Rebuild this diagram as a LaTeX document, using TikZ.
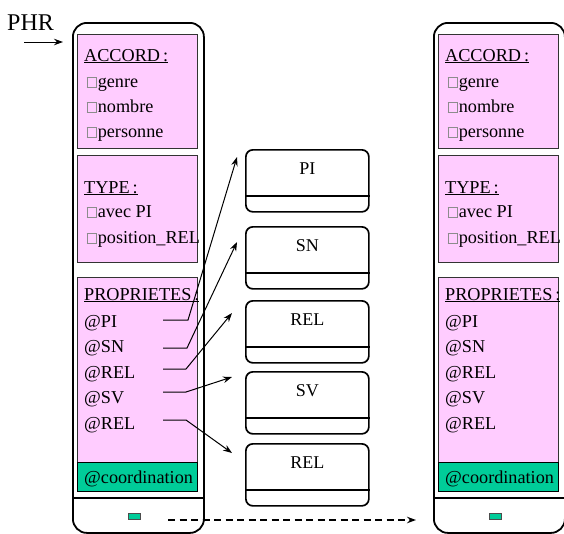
\documentclass[tikz,border=0pt]{standalone}
\usepackage{fontspec}
\setmainfont{Liberation Serif}
\usetikzlibrary{arrows.meta,calc}
\definecolor{pinkc}{HTML}{FFCCFF}
\definecolor{greenc}{HTML}{00CC99}
\newcommand\cbx{\hspace{2.5pt}{\color{black!45}\setlength{\fboxsep}{0pt}\setlength{\fboxrule}{0.7pt}\fbox{\rule{0pt}{9.5pt}\rule{8.5pt}{0pt}}}\hspace{1.2pt}}
\tikzset{
  outerbox/.style={draw, line width=1.8pt, rounded corners=14pt, minimum width=131pt, minimum height=510pt, inner sep=0pt, anchor=north west},
  pinkbox/.style={draw=black!80, fill=pinkc, line width=1.1pt, minimum width=120pt, inner sep=0pt, anchor=north west},
  greenbox/.style={draw=black, fill=greenc, line width=1.1pt, minimum width=120pt, minimum height=29pt, inner sep=0pt, anchor=north west},
  ptrbox/.style={draw=black!70, fill=greenc, line width=0.7pt, minimum width=12pt, minimum height=6pt, inner sep=0pt, anchor=north west},
  databox/.style={draw, line width=1.7pt, rounded corners=7pt, minimum width=123pt, minimum height=62pt, inner sep=0pt, anchor=north west},
  txt/.style={anchor=base west, inner sep=0pt, font=\fontsize{18.2}{20}\selectfont},
  lbl/.style={anchor=base, inner sep=0pt, font=\fontsize{18}{20}\selectfont},
  arr/.style={-{Stealth[length=9pt,width=6.5pt]}, line width=1pt},
  darr/.style={-{Stealth[length=9pt,width=6.5pt]}, line width=1.4pt, dash pattern=on 7pt off 4.5pt},
}
\newcommand\PhrBox[2]{%
  \node[outerbox] (#1) at ({#2+72},22) {};
  \node[pinkbox, minimum height=114pt] (#1acc) at ({#2+77},34) {};
  \node[pinkbox, minimum height=107pt] (#1typ) at ({#2+77},155) {};
  \node[pinkbox, minimum height=185pt] (#1pro) at ({#2+77},277) {};
  \node[greenbox] (#1coo) at ({#2+77},462) {};
  \draw[line width=1.8pt] ({#2+72},498) -- ({#2+203},498);
  \node[ptrbox] (#1ptr) at ({#2+128},513) {};
  \node[txt] (#1t1) at ({#2+84},61) {\underline{ACCORD\,:}};
  \node[txt] (#1t2) at ({#2+84},87) {\cbx genre};
  \node[txt] (#1t3) at ({#2+84},112) {\cbx nombre};
  \node[txt] (#1t4) at ({#2+84},137) {\cbx personne};
  \node[txt] (#1t5) at ({#2+84},193) {\underline{TYPE\,:}};
  \node[txt] (#1t6) at ({#2+84},217) {\cbx avec PI};
  \node[txt] (#1t7) at ({#2+84},243) {\cbx position\_REL};
  \node[txt] (#1t8) at ({#2+84},300) {\underline{PROPRIETES\,:}};
  \node[txt] (#1t9) at ({#2+84},327) {@PI};
  \node[txt] (#1t10) at ({#2+84},352) {@SN};
  \node[txt] (#1t11) at ({#2+84},378) {@REL};
  \node[txt] (#1t12) at ({#2+84},403) {@SV};
  \node[txt] (#1t13) at ({#2+84},429) {@REL};
  \node[txt] (#1t14) at ({#2+84},483) {@coordination};
}
\newcommand\DataBox[3]{%
  \node[databox] (#1) at (245,#2) {};
  \draw[line width=1.7pt] ($(#1.north west)+(0,47)$) -- ($(#1.north east)+(0,47)$);
  \node[lbl] (#1lbl) at ($(#1.north)+(0,25)$) {#3};
}
\begin{document}
\begin{tikzpicture}[x=1pt,y=-1pt]
\useasboundingbox (0,0) rectangle (564,533);
\PhrBox{L}{0}
\PhrBox{R}{361}
\DataBox{pi}{149}{PI}
\DataBox{sn}{226}{SN}
\DataBox{rel}{300}{REL}
\DataBox{sv}{371}{SV}
\DataBox{relb}{443}{REL}
% PHR
\node[anchor=base west, inner sep=0pt, font=\fontsize{24}{26}\selectfont] (phr) at (7,30) {PHR};
\coordinate (phrS) at (24,42);
\draw[arr] (phrS) -- ([xshift=-9pt]phrS -| L.west);
% pointers
\coordinate (s1) at (163,320);
\coordinate (s2) at (163,348);
\coordinate (s3) at (163,369);
\coordinate (s4) at (163,392);
\coordinate (s5) at (163,420);
\draw[arr] (s1) -- ++(25,0) -- ($(pi.north west)+(-8,8)$);
\draw[arr] (s2) -- ++(24,0) -- ($(sn.north west)+(-8,16)$);
\draw[arr] (s3) -- ++(23,0) -- ($(rel.north west)+(-13,13)$);
\draw[arr] (s4) -- ++(23,0) -- ($(sv.north west)+(-13,6)$);
\draw[arr] (s5) -- ++(23,0) -- ($(relb.north west)+(-13,10)$);
% dashed
\coordinate (dS) at (168,520);
\draw[darr] (dS) -- ([xshift=-17pt]dS -| R.west);
\end{tikzpicture}
\end{document}
